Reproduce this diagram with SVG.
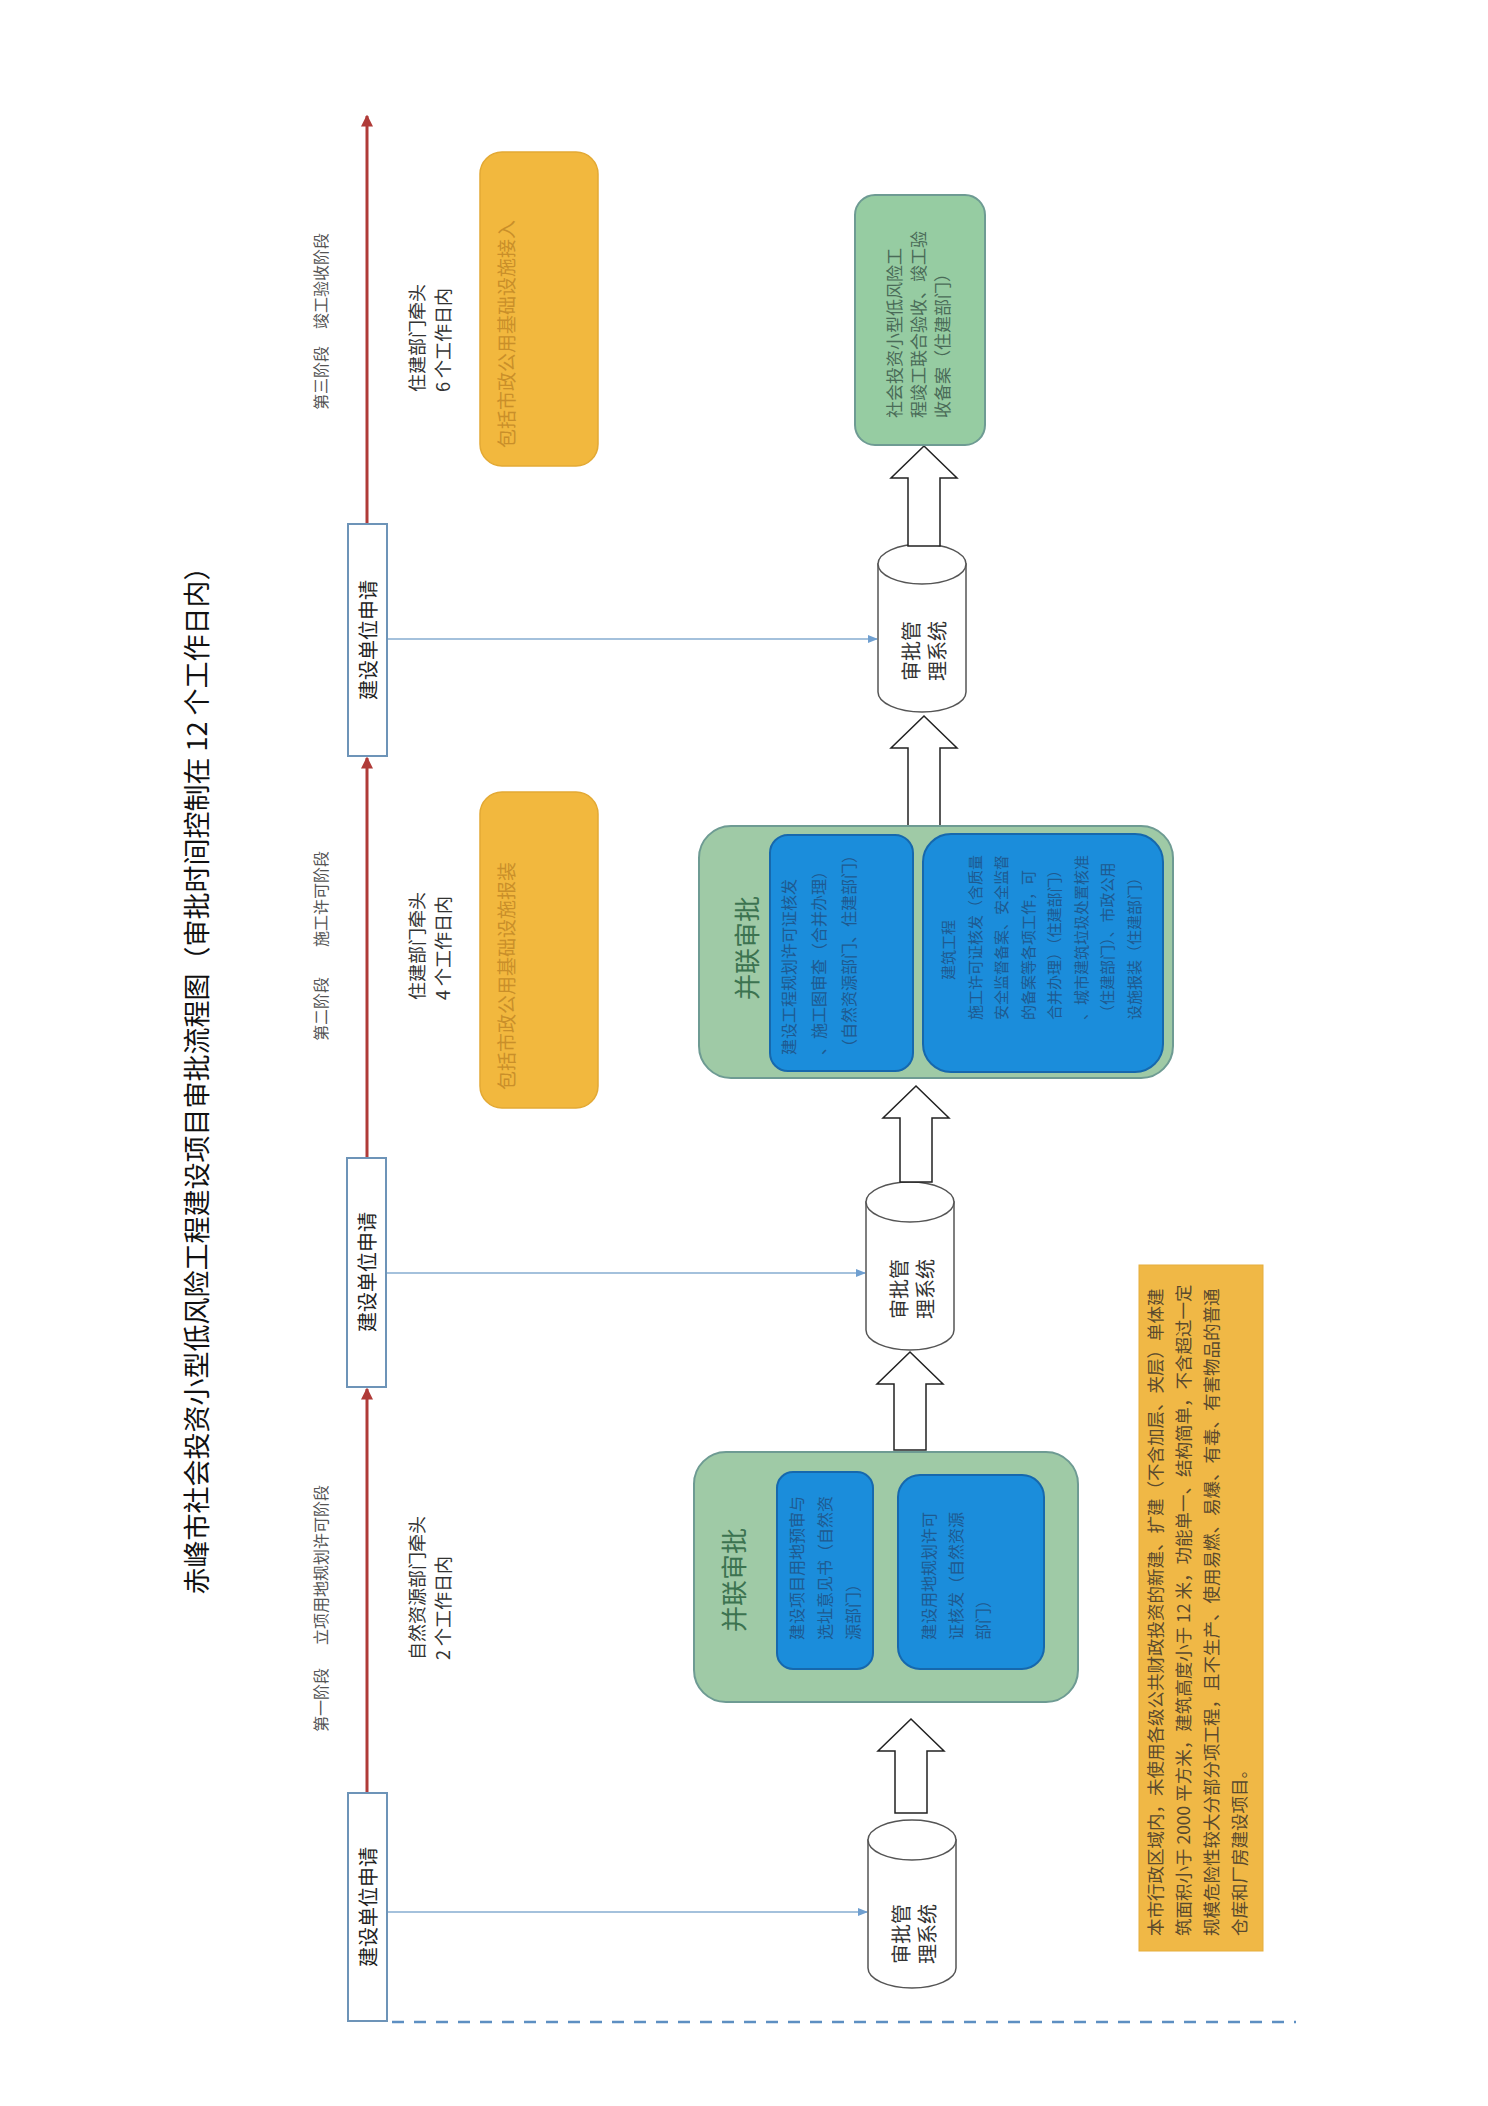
<svg xmlns="http://www.w3.org/2000/svg" width="1488" height="2106" viewBox="0 0 1488 2106">
<defs>
<style>
text{font-family:"Noto Sans CJK SC","Liberation Sans",sans-serif;dominant-baseline:central;}
.title{font-size:27px;fill:#111;}
.phase{font-size:16px;fill:#555;}
.lead{font-size:18px;fill:#333;}
.req rect{fill:#fff;stroke:#6d94b8;stroke-width:2;}
.req text{font-size:20px;fill:#222;}
.cyl path,.cyl ellipse{fill:#fff;stroke:#555;stroke-width:1.5;}
.cyl text{font-size:20px;fill:#333;}
.blk{fill:#fff;stroke:#222;stroke-width:1.5;}
.grp{fill:#9fcaa6;stroke:#6e9b93;stroke-width:2;}
.gtitle{font-size:26px;fill:#3c7350;}
.blue{fill:#1b8ddb;stroke:#1668ad;stroke-width:2;}
.btext{font-size:16px;fill:#1f5a90;}
.btext2{font-size:15px;fill:#1f5a90;}
.orange{fill:#f2b83e;stroke:#e3a934;stroke-width:1.5;}
.otext{font-size:19px;fill:#c98f2a;}
.note{fill:#f0b846;stroke:#e6ae3c;stroke-width:1;}
.ntext{font-size:17.5px;fill:#5a4a2e;}
.final{fill:#96cca2;stroke:#6e9b93;stroke-width:2;}
.ftext{font-size:17px;fill:#4a6b58;}
.red{stroke:#b03b38;stroke-width:3;fill:none;}
.conn{stroke:#86acd0;stroke-width:1.3;fill:none;}
.dash{stroke:#5d8fc2;stroke-width:2.5;stroke-dasharray:12 10;fill:none;}
</style>
<marker id="ra" markerWidth="4" markerHeight="4" refX="3.5" refY="2" orient="auto" markerUnits="strokeWidth">
<path d="M0,0 L4,2 L0,4 z" fill="#b03b38"/>
</marker>
<marker id="ba" markerWidth="10" markerHeight="8" refX="9" refY="4" orient="auto" markerUnits="userSpaceOnUse">
<path d="M0,0 L10,4 L0,8 z" fill="#6f9fd0"/>
</marker>
</defs>
<rect width="1488" height="2106" fill="#fff"/>

<g id="title">
<text class="title" text-anchor="middle" transform="translate(195,1074) rotate(-90)">赤峰市社会投资小型低风险工程建设项目审批流程图（审批时间控制在 12 个工作日内）</text>
</g>

<g id="connectors">
<line class="red" x1="367" y1="1793" x2="367" y2="1389" marker-end="url(#ra)"/>
<line class="red" x1="367" y1="1158" x2="367" y2="758" marker-end="url(#ra)"/>
<line class="red" x1="367" y1="524" x2="367" y2="116" marker-end="url(#ra)"/>
<line class="conn" x1="387" y1="1912" x2="867" y2="1912" marker-end="url(#ba)"/>
<line class="conn" x1="386" y1="1273" x2="865" y2="1273" marker-end="url(#ba)"/>
<line class="conn" x1="387" y1="639" x2="877" y2="639" marker-end="url(#ba)"/>
<line class="dash" x1="392" y1="2022" x2="1296" y2="2022"/>
</g>

<g id="phases">
<text class="phase" transform="translate(320,1732) rotate(-90)">第一阶段</text>
<text class="phase" transform="translate(320,1645) rotate(-90)">立项用地规划许可阶段</text>
<text class="phase" transform="translate(320,1041) rotate(-90)">第二阶段</text>
<text class="phase" transform="translate(320,947) rotate(-90)">施工许可阶段</text>
<text class="phase" transform="translate(320,410) rotate(-90)">第三阶段</text>
<text class="phase" transform="translate(320,329) rotate(-90)">竣工验收阶段</text>
</g>

<g id="leads">
<text class="lead" transform="translate(416,1660) rotate(-90)"><tspan x="0" y="0">自然资源部门牵头</tspan><tspan x="0" y="26">2 个工作日内</tspan></text>
<text class="lead" transform="translate(416,1000) rotate(-90)"><tspan x="0" y="0">住建部门牵头</tspan><tspan x="0" y="26">4 个工作日内</tspan></text>
<text class="lead" transform="translate(416,392) rotate(-90)"><tspan x="0" y="0">住建部门牵头</tspan><tspan x="0" y="26">6 个工作日内</tspan></text>
</g>

<g id="req1" class="req">
<rect x="348" y="1793" width="39" height="228"/>
<text text-anchor="middle" transform="translate(367.5,1907) rotate(-90)">建设单位申请</text>
</g>
<g id="req2" class="req">
<rect x="347" y="1158" width="39" height="229"/>
<text text-anchor="middle" transform="translate(366.5,1272) rotate(-90)">建设单位申请</text>
</g>
<g id="req3" class="req">
<rect x="348" y="524" width="39" height="232"/>
<text text-anchor="middle" transform="translate(367.5,640) rotate(-90)">建设单位申请</text>
</g>

<g id="orange1">
<rect class="orange" x="480" y="792" width="118" height="316" rx="22"/>
<text class="otext" transform="translate(505,1090) rotate(-90)">包括市政公用基础设施报装</text>
</g>
<g id="orange2">
<rect class="orange" x="480" y="152" width="118" height="314" rx="22"/>
<text class="otext" transform="translate(505,448) rotate(-90)">包括市政公用基础设施接入</text>
</g>

<g id="cyl1" class="cyl">
<path d="M868,1840 L868,1968 A44,20 0 0 0 956,1968 L956,1840 Z"/>
<ellipse cx="912" cy="1840" rx="44" ry="20"/>
<text text-anchor="middle" transform="translate(900,1934) rotate(-90)"><tspan x="0" y="0">审批管</tspan><tspan x="0" y="26">理系统</tspan></text>
</g>
<g id="cyl2" class="cyl">
<path d="M866,1202 L866,1330 A44,20 0 0 0 954,1330 L954,1202 Z"/>
<ellipse cx="910" cy="1202" rx="44" ry="20"/>
<text text-anchor="middle" transform="translate(898,1289) rotate(-90)"><tspan x="0" y="0">审批管</tspan><tspan x="0" y="26">理系统</tspan></text>
</g>
<g id="cyl3" class="cyl">
<path d="M878,564 L878,692 A44,20 0 0 0 966,692 L966,564 Z"/>
<ellipse cx="922" cy="564" rx="44" ry="20"/>
<text text-anchor="middle" transform="translate(910,651) rotate(-90)"><tspan x="0" y="0">审批管</tspan><tspan x="0" y="26">理系统</tspan></text>
</g>

<g id="arrows">
<path class="blk" d="M911,1719 L944,1751 L927,1751 L927,1813 L895,1813 L895,1751 L878,1751 Z"/>
<path class="blk" d="M910,1352 L943,1384 L926,1384 L926,1450 L894,1450 L894,1384 L877,1384 Z"/>
<path class="blk" d="M916,1086 L949,1118 L932,1118 L932,1182 L900,1182 L900,1118 L883,1118 Z"/>
<path class="blk" d="M924,716 L957,748 L940,748 L940,826 L908,826 L908,748 L891,748 Z"/>
<path class="blk" d="M924,446 L957,478 L940,478 L940,546 L908,546 L908,478 L891,478 Z"/>
</g>

<g id="parallel1">
<rect class="grp" x="694" y="1452" width="384" height="250" rx="32"/>
<text class="gtitle" text-anchor="middle" transform="translate(732,1580) rotate(-90)">并联审批</text>
<rect class="blue" x="777" y="1472" width="96" height="197" rx="16"/>
<text class="btext" transform="translate(796,1640) rotate(-90)"><tspan x="0" y="0">建设项目用地预审与</tspan><tspan x="0" y="28">选址意见书（自然资</tspan><tspan x="0" y="56">源部门）</tspan></text>
<rect class="blue" x="898" y="1475" width="146" height="194" rx="22"/>
<text class="btext" transform="translate(928,1640) rotate(-90)"><tspan x="0" y="0">建设用地规划许可</tspan><tspan x="0" y="27">证核发（自然资源</tspan><tspan x="0" y="54">部门）</tspan></text>
</g>

<g id="parallel2">
<rect class="grp" x="699" y="826" width="474" height="252" rx="32"/>
<text class="gtitle" text-anchor="middle" transform="translate(745,948) rotate(-90)">并联审批</text>
<rect class="blue" x="770" y="835" width="143" height="236" rx="18"/>
<text class="btext" transform="translate(788,1055) rotate(-90)"><tspan x="0" y="0">建设工程规划许可证核发</tspan><tspan x="0" y="30">、施工图审查（合并办理）</tspan><tspan x="0" y="60">（自然资源部门、住建部门）</tspan></text>
<rect class="blue" x="923" y="834" width="240" height="238" rx="28"/>
<text class="btext2" transform="translate(947,1020) rotate(-90)"><tspan x="40" y="0">建筑工程</tspan><tspan x="0" y="26.5">施工许可证核发（含质量</tspan><tspan x="0" y="53">安全监督备案、安全监督</tspan><tspan x="0" y="79.5">的备案等各项工作，可</tspan><tspan x="0" y="106">合并办理）（住建部门）</tspan><tspan x="0" y="132.5">、城市建筑垃圾处置核准</tspan><tspan x="0" y="159">（住建部门）、市政公用</tspan><tspan x="0" y="185.5">设施报装（住建部门）</tspan></text>
</g>

<g id="final">
<rect class="final" x="855" y="195" width="130" height="250" rx="20"/>
<text class="ftext" transform="translate(893,418) rotate(-90)"><tspan x="0" y="0">社会投资小型低风险工</tspan><tspan x="0" y="24">程竣工联合验收、竣工验</tspan><tspan x="0" y="48">收备案（住建部门）</tspan></text>
</g>

<g id="note">
<rect class="note" x="1139" y="1265" width="124" height="686"/>
<text class="ntext" transform="translate(1154,1936) rotate(-90)"><tspan x="0" y="0">本市行政区域内，未使用各级公共财政投资的新建、扩建（不含加层、夹层）单体建</tspan><tspan x="0" y="28">筑面积小于 2000 平方米，建筑高度小于 12 米，功能单一、结构简单，不含超过一定</tspan><tspan x="0" y="56">规模危险性较大分部分项工程，且不生产、使用易燃、易爆、有毒、有害物品的普通</tspan><tspan x="0" y="84">仓库和厂房建设项目。</tspan></text>
</g>
</svg>
